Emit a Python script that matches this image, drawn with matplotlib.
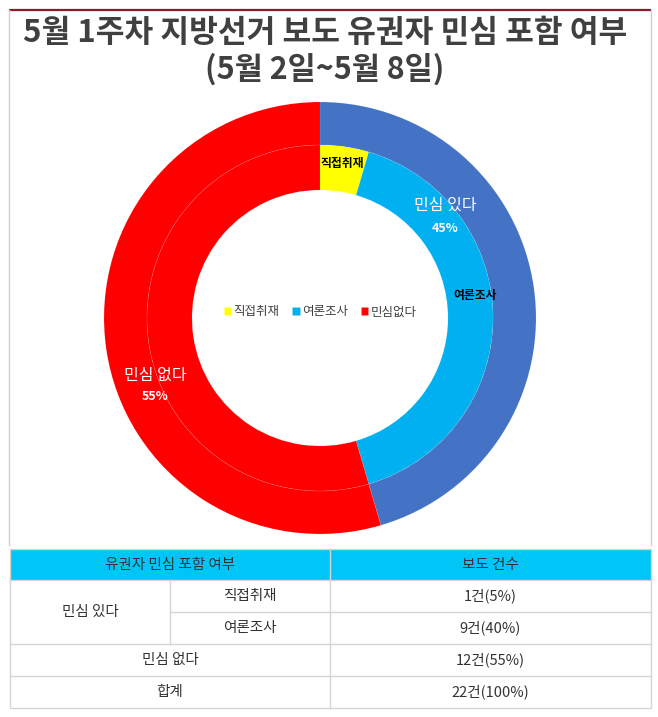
import matplotlib
matplotlib.use("Agg")
import matplotlib.pyplot as plt
from matplotlib.patches import Rectangle

plt.rcParams['font.family'] = ['Noto Sans CJK KR', 'DejaVu Sans']

# ---- data ----
title = "5월 1주차 지방선거 보도 유권자 민심 포함 여부"
subtitle = "(5월 2일~5월 8일)"
groups = ["민심 있다", "민심 없다"]
group_counts = [10, 12]
group_pct = [45, 55]
categories = ["직접취재", "여론조사", "민심없다"]
cat_counts = [1, 9, 12]
cat_pct = [5, 40, 55]
table_header = ["유권자 민심 포함 여부", "보도 건수"]
total_count = 22
total_pct = 100

outer_colors = ["#4472C4", "#FF0000"]
inner_colors = ["#FFFF00", "#00B0F0", "#FF0000"]

W, H = 658, 717
fig = plt.figure(figsize=(W / 100, H / 100), dpi=100)
fig.patch.set_facecolor("white")

# ---- donut ----
cx, cy, R = 320, 318, 216
r_mid, r_hole = 173, 128
pax = fig.add_axes([(cx - R) / W, 1 - (cy + R) / H, 2 * R / W, 2 * R / H])
pax.axis("off")

pax.pie(group_counts, colors=outer_colors, radius=1.0, startangle=90,
        counterclock=False,
        wedgeprops=dict(width=(R - r_mid) / R, edgecolor=(1, 1, 1, 0.12), linewidth=0.5))
inner_wedges, _ = pax.pie(cat_counts, colors=inner_colors, radius=r_mid / R, startangle=90,
                          counterclock=False,
                          wedgeprops=dict(width=(r_mid - r_hole) / R, edgecolor=(1, 1, 1, 0.12),
                                          linewidth=0.5))
pax.set_xlim(-1, 1)
pax.set_ylim(-1, 1)
pax.set_aspect("equal")
leg = pax.legend(inner_wedges, categories, loc="center", ncol=3, frameon=False,
                 bbox_to_anchor=(0.5, 0.5 + 6 / (2 * R)),
                 handlelength=0.6, handleheight=0.6, handletextpad=0.2, columnspacing=1.0,
                 prop={"size": 9})
for t in leg.get_texts():
    t.set_color("#404040")

# ---- overlay ----
ov = fig.add_axes([0, 0, 1, 1], zorder=10)
ov.set_xlim(0, W)
ov.set_ylim(H, 0)
ov.axis("off")
ov.patch.set_alpha(0)

# frame
ov.plot([9, 651], [10, 10], color="#8B1A2B", lw=1.6, solid_capstyle="butt")
ov.plot([9, 9], [10, 545], color="#D0D0D0", lw=1)
ov.plot([651, 651], [10, 545], color="#D0D0D0", lw=1)

ov.text(325, 33, title, ha="center", va="center", fontsize=22.5, fontweight="bold",
        color="#404040")
ov.text(325, 69, subtitle, ha="center", va="center", fontsize=22, fontweight="bold",
        color="#404040")

# ring labels
ov.text(445, 205, groups[0], ha="center", va="center", fontsize=11.5, fontweight="medium",
        color="white")
ov.text(445, 228, f"{group_pct[0]}%", ha="center", va="center", fontsize=9, fontweight="bold",
        color="white")
ov.text(155, 375, groups[1], ha="center", va="center", fontsize=11.5, fontweight="medium",
        color="white")
ov.text(155, 397, f"{group_pct[1]}%", ha="center", va="center", fontsize=9, fontweight="bold",
        color="white")
ov.text(342, 163, categories[0], ha="center", va="center", fontsize=8.5, fontweight="bold",
        color="black")
ov.text(475, 295, categories[1], ha="center", va="center", fontsize=8.5, fontweight="bold",
        color="black")

# ---- table ----
x0, x1, xm, xs = 10, 651, 330, 170
ys = [549, 580, 612, 644, 676, 708]
grid = "#D5D5D5"
ov.add_patch(Rectangle((x0, ys[0]), x1 - x0, ys[1] - ys[0], facecolor="#00C6F7", edgecolor="none"))
ov.add_patch(Rectangle((x0, ys[0]), x1 - x0, ys[-1] - ys[0], facecolor="none", edgecolor=grid, lw=1))
for y in ys[1:-1]:
    if y == ys[2]:
        ov.plot([xs, x1], [y, y], color=grid, lw=1)
    else:
        ov.plot([x0, x1], [y, y], color=grid, lw=1)
ov.plot([xm, xm], [ys[0], ys[-1]], color=grid, lw=1)
ov.plot([xs, xs], [ys[1], ys[3]], color=grid, lw=1)

tc = "#333333"
fs = 10.5
mid = lambda a, b: (a + b) / 2
ov.text(mid(x0, xm), mid(ys[0], ys[1]), table_header[0], ha="center", va="center", fontsize=fs, color=tc)
ov.text(mid(xm, x1), mid(ys[0], ys[1]), table_header[1], ha="center", va="center", fontsize=fs, color=tc)
ov.text(mid(x0, xs), mid(ys[1], ys[3]), groups[0], ha="center", va="center", fontsize=fs, color=tc)
ov.text(mid(xs, xm), mid(ys[1], ys[2]), categories[0], ha="center", va="center", fontsize=fs, color=tc)
ov.text(mid(xs, xm), mid(ys[2], ys[3]), categories[1], ha="center", va="center", fontsize=fs, color=tc)
ov.text(mid(xm, x1), mid(ys[1], ys[2]), f"{cat_counts[0]}건({cat_pct[0]}%)", ha="center", va="center", fontsize=fs, color=tc)
ov.text(mid(xm, x1), mid(ys[2], ys[3]), f"{cat_counts[1]}건({cat_pct[1]}%)", ha="center", va="center", fontsize=fs, color=tc)
ov.text(mid(x0, xm), mid(ys[3], ys[4]), groups[1], ha="center", va="center", fontsize=fs, color=tc)
ov.text(mid(xm, x1), mid(ys[3], ys[4]), f"{cat_counts[2]}건({cat_pct[2]}%)", ha="center", va="center", fontsize=fs, color=tc)
ov.text(mid(x0, xm), mid(ys[4], ys[5]), "합계", ha="center", va="center", fontsize=fs, color=tc)
ov.text(mid(xm, x1), mid(ys[4], ys[5]), f"{total_count}건({total_pct}%)", ha="center", va="center", fontsize=fs, color=tc)

fig.savefig("out.png", dpi=100, facecolor="white")
